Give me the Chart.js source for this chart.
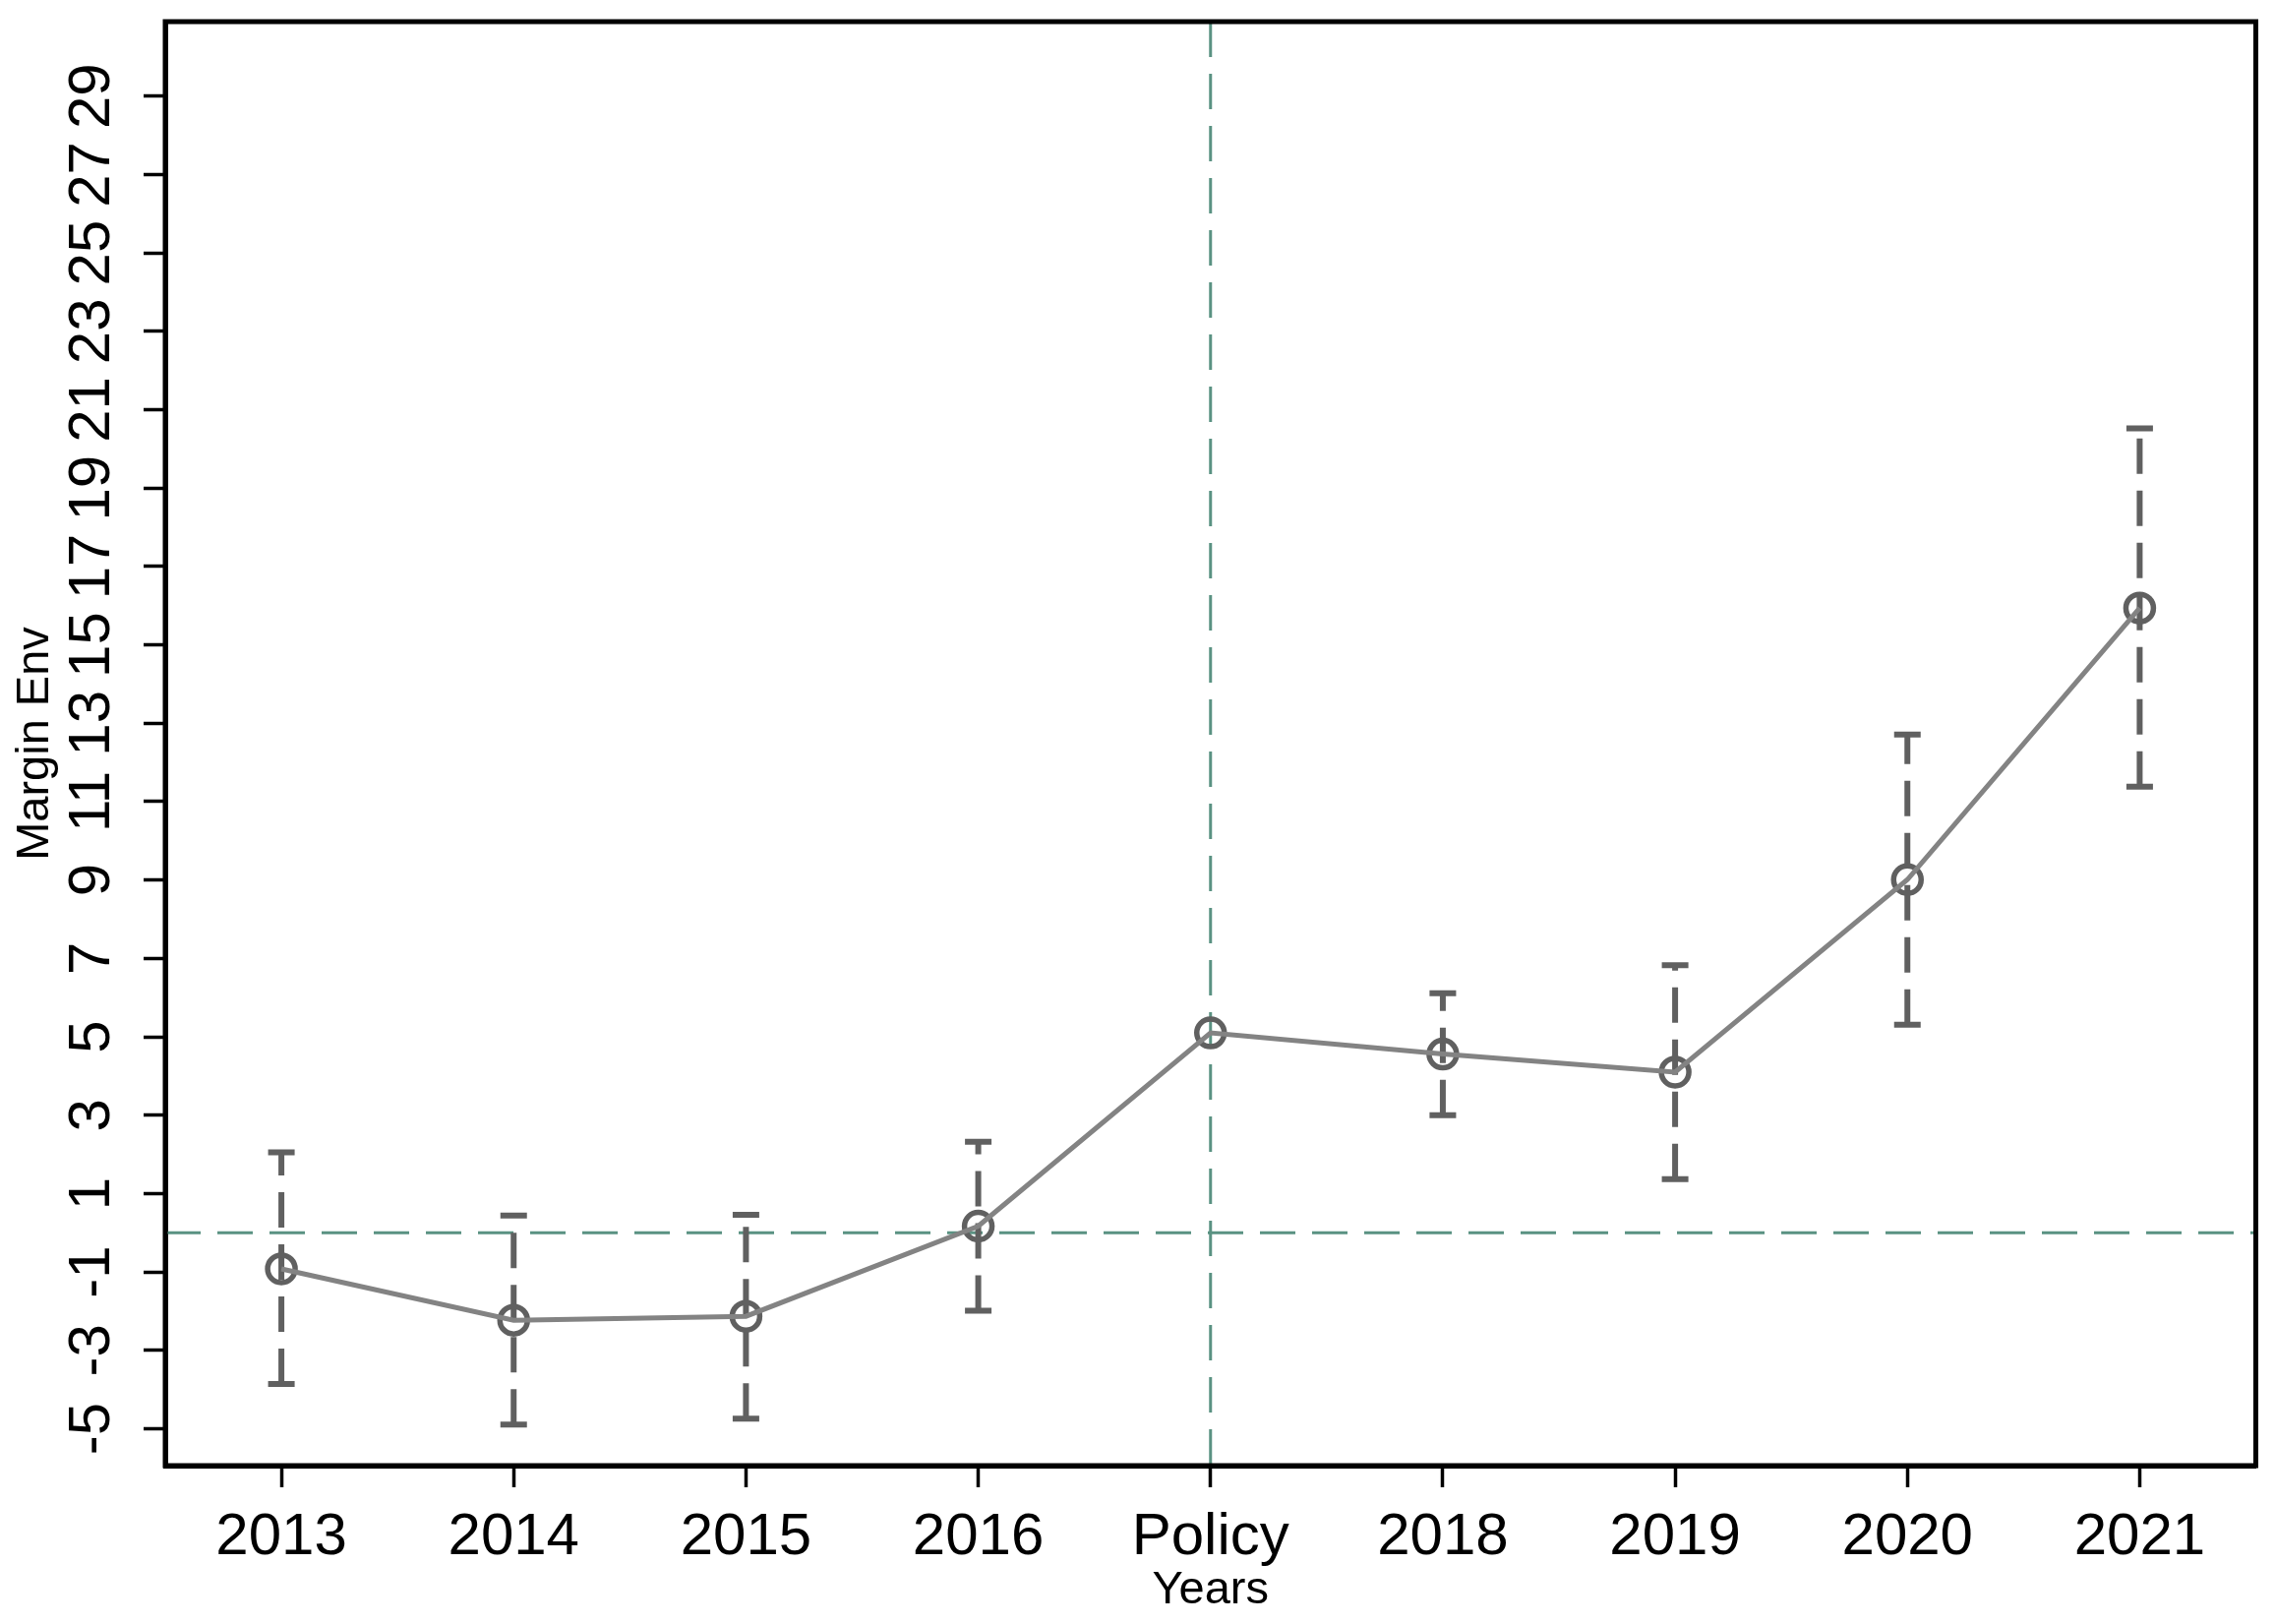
<!DOCTYPE html>
<html>
<head>
<meta charset="utf-8">
<script src="https://cdn.jsdelivr.net/npm/chart.js@4.4.1/dist/chart.umd.min.js"></script>
<style>
  html, body { margin: 0; padding: 0; background: #ffffff; }
  canvas { display: block; }
</style>
</head>
<body>
<canvas id="chart" width="2313" height="1651" style="width:2313px;height:1651px"></canvas>
<script>
// ---- data ----
const categories = ['2013', '2014', '2015', '2016', 'Policy', '2018', '2019', '2020', '2021'];
const estimates  = [-0.92, -2.23, -2.13, 0.17, 5.10, 4.56, 4.10, 9.01, 15.94];
const ciLower    = [-3.86, -4.89, -4.74, -1.99, null, 3.00, 1.37, 5.31, 11.38];
const ciUpper    = [ 2.05,  0.44,  0.46,  2.32, null, 6.11, 6.83, 12.71, 20.52];
const yTickValues = [-5, -3, -1, 1, 3, 5, 7, 9, 11, 13, 15, 17, 19, 21, 23, 25, 27, 29];
const yMin = -5.94;
const yMax = 30.9;
const refY = 0;
const refX = 'Policy';
const yTitle = 'Margin Env';
const xTitle = 'Years';

// ---- styles ----
const FONT = 'Liberation Sans, Arial, Helvetica, sans-serif';
const lineColor = '#838383';
const barColor = '#606060';
const refColor = '#5a9282';

Chart.defaults.font.family = FONT;

const pointData = categories.map((c, i) => ({ x: c, y: estimates[i] }));
const errorData = categories.flatMap((c, i) =>
  (ciLower[i] === null || ciUpper[i] === null) ? [] :
  [{ x: c, y: ciLower[i] }, { x: c, y: ciUpper[i] }, { x: c, y: null }]
);

const overlay = {
  id: 'overlay',
  beforeDatasetsDraw(chart) {
    const { ctx, chartArea: a, scales: { x, y } } = chart;
    ctx.save();
    ctx.strokeStyle = refColor;
    ctx.lineWidth = 3;
    ctx.setLineDash([36, 17]);
    const py = y.getPixelForValue(refY);
    ctx.beginPath(); ctx.moveTo(a.left, py); ctx.lineTo(a.right, py); ctx.stroke();
    const px = x.getPixelForValue(categories.indexOf(refX));
    ctx.beginPath(); ctx.moveTo(px, a.top); ctx.lineTo(px, a.bottom); ctx.stroke();
    ctx.restore();
  },
  afterDraw(chart) {
    const { ctx, chartArea: a } = chart;
    ctx.save();
    ctx.strokeStyle = '#000';
    ctx.lineWidth = 5;
    ctx.setLineDash([]);
    ctx.strokeRect(a.left, a.top, a.right - a.left, a.bottom - a.top);
    ctx.restore();
  }
};

const gridOpts = {
  display: true,
  drawOnChartArea: false,
  drawTicks: true,
  tickLength: 22,
  tickWidth: 3.5,
  tickColor: '#000',
  offset: false
};

new Chart(document.getElementById('chart'), {
  type: 'line',
  data: {
    labels: categories,
    datasets: [
      {
        label: 'line',
        data: pointData,
        borderColor: lineColor,
        borderWidth: 5,
        pointRadius: 0,
        tension: 0,
        fill: false,
        order: 0
      },
      {
        label: 'markers',
        data: pointData,
        showLine: false,
        pointStyle: 'circle',
        pointRadius: 14,
        pointBorderWidth: 5.5,
        pointBorderColor: barColor,
        pointBackgroundColor: 'rgba(0,0,0,0)',
        order: 1
      },
      {
        label: 'ci',
        data: errorData,
        borderColor: barColor,
        borderWidth: 6,
        borderDash: [36, 17],
        spanGaps: false,
        tension: 0,
        pointStyle: 'line',
        pointRadius: 13.5,
        pointBorderWidth: 6,
        pointBorderColor: barColor,
        pointBackgroundColor: barColor,
        fill: false,
        order: 2
      }
    ]
  },
  options: {
    responsive: false,
    devicePixelRatio: 1,
    animation: false,
    events: [],
    layout: { padding: { top: 22, right: 15, left: 0, bottom: 0 } },
    plugins: {
      legend: { display: false },
      tooltip: { enabled: false },
      title: { display: false }
    },
    scales: {
      x: {
        type: 'category',
        labels: categories,
        offset: true,
        grid: gridOpts,
        border: { display: true, color: '#000', width: 5 },
        ticks: {
          color: '#000',
          font: { family: FONT, size: 60 },
          padding: 15,
          autoSkip: false,
          minRotation: 0,
          maxRotation: 0
        },
        title: {
          display: true,
          text: xTitle,
          color: '#000',
          font: { family: FONT, size: 47 },
          padding: { top: 0, bottom: 6 }
        },
        afterFit(s) {
          s.height = 161;
          s.paddingLeft = 0; s.paddingRight = 0;
        }
      },
      y: {
        type: 'linear',
        min: yMin,
        max: yMax,
        afterBuildTicks(s) {
          s.ticks = yTickValues.map(v => ({ value: v }));
        },
        grid: gridOpts,
        border: { display: true, color: '#000', width: 5 },
        ticks: {
          color: '#000',
          font: { family: FONT, size: 60 },
          padding: 18,
          autoSkip: false,
          minRotation: 90,
          maxRotation: 90,
          crossAlign: 'center',
          callback: v => String(v)
        },
        title: {
          display: true,
          text: yTitle,
          color: '#000',
          font: { family: FONT, size: 47 },
          padding: { top: 7.5, bottom: 0 }
        },
        afterFit(s) {
          s.width = 168;
          s.paddingTop = 0; s.paddingBottom = 0;
        }
      }
    }
  },
  plugins: [overlay]
});
</script>
</body>
</html>
